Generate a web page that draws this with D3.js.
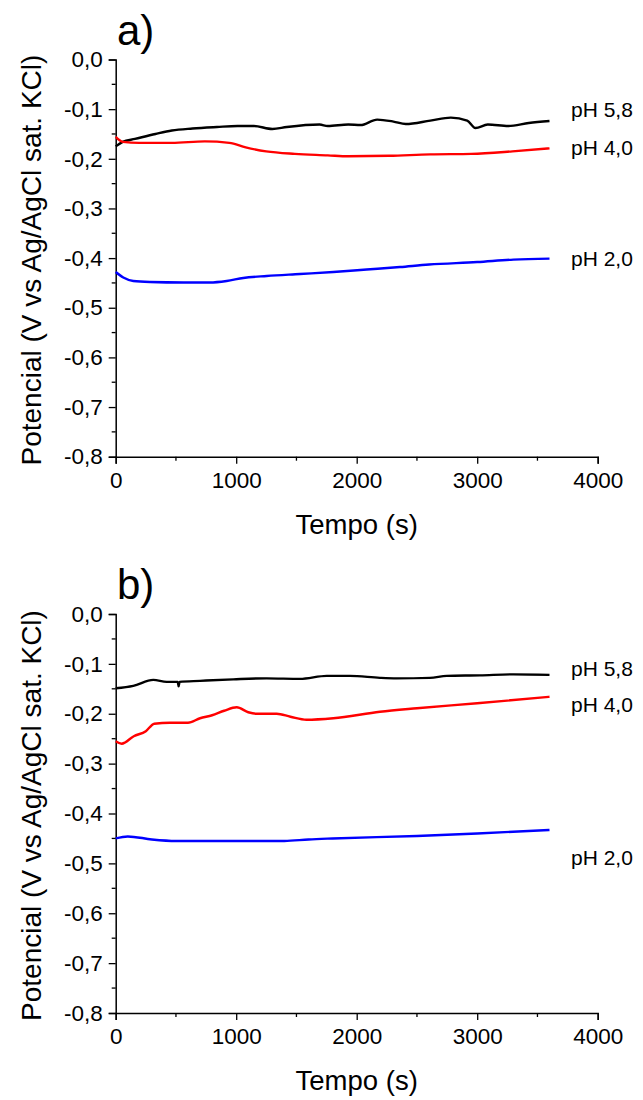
<!DOCTYPE html>
<html>
<head>
<meta charset="utf-8">
<script src="https://cdn.jsdelivr.net/npm/d3@7"></script>
<style>
  body { margin: 0; background: #fff; }
  svg { display: block; font-family: "Liberation Sans", Arial, sans-serif; }
</style>
</head>
<body>
<svg id="chart" width="643" height="1100"></svg>
<script>
// ---------- DATA ----------
const xTicks = [0, 1000, 2000, 3000, 4000];
const yTicks = [0, -0.1, -0.2, -0.3, -0.4, -0.5, -0.6, -0.7, -0.8];
const seriesNames = ["pH 5,8", "pH 4,0", "pH 2,0"];
const seriesColors = ["#000000", "#ff0000", "#0000ff"];
const panelTitles = ["a)", "b)"];
const xTitle = "Tempo (s)";
const yTitle = "Potencial (V vs Ag/AgCl sat. KCl)";

// Panel a) time (s) / potential (V)
const aPH58 = [[0,-0.175],[58,-0.166],[160,-0.160],[330,-0.150],[466,-0.143],[637,-0.139],[840,-0.136],[1011,-0.134],[1147,-0.134],[1300,-0.140],[1420,-0.136],[1692,-0.131],[1760,-0.134],[1930,-0.131],[2032,-0.132],[2170,-0.121],[2305,-0.125],[2407,-0.130],[2611,-0.123],[2781,-0.117],[2917,-0.123],[2986,-0.138],[3088,-0.131],[3258,-0.134],[3428,-0.128],[3600,-0.124]];
const aPH40 = [[0,-0.156],[58,-0.166],[194,-0.168],[466,-0.168],[739,-0.165],[943,-0.168],[1079,-0.177],[1249,-0.185],[1487,-0.190],[1760,-0.193],[1930,-0.195],[2270,-0.194],[2611,-0.191],[2951,-0.190],[3292,-0.185],[3600,-0.179]];
const aPH20 = [[0,-0.428],[63,-0.439],[146,-0.446],[285,-0.448],[561,-0.449],[782,-0.449],[921,-0.446],[1059,-0.440],[1253,-0.436],[1529,-0.432],[1806,-0.428],[2083,-0.423],[2359,-0.418],[2600,-0.413],[3000,-0.408],[3300,-0.403],[3600,-0.401]];

// Panel b)
const bPH58 = [[0,-0.149],[146,-0.144],[312,-0.132],[423,-0.136],[515,-0.136],[522,-0.145],[530,-0.136],[700,-0.134],[976,-0.131],[1253,-0.129],[1529,-0.130],[1751,-0.124],[1944,-0.124],[2193,-0.128],[2332,-0.129],[2608,-0.128],[2747,-0.124],[3023,-0.123],[3300,-0.121],[3600,-0.122]];
const bPH40 = [[0,-0.255],[50,-0.260],[150,-0.245],[250,-0.235],[320,-0.220],[450,-0.218],[600,-0.218],[700,-0.209],[800,-0.203],[900,-0.194],[1004,-0.187],[1100,-0.197],[1170,-0.200],[1336,-0.200],[1450,-0.206],[1583,-0.212],[1806,-0.209],[2193,-0.196],[2500,-0.189],[3000,-0.179],[3600,-0.166]];
const bPH20 = [[0,-0.450],[100,-0.446],[300,-0.452],[500,-0.455],[900,-0.455],[1400,-0.455],[1600,-0.452],[1800,-0.450],[2500,-0.445],[3000,-0.440],[3600,-0.433]];

// label anchor values (potential at which each pH label is centred)
const aLabelValues = [-0.100, -0.178, -0.402];
const bLabelValues = [-0.110, -0.182, -0.488];

// ---------- DRAW ----------
const svg = d3.select("#chart");
const panels = [
  { title: panelTitles[0], series: [aPH58, aPH40, aPH20], labels: aLabelValues, top: 59.5, bottom: 456.7 },
  { title: panelTitles[1], series: [bPH58, bPH40, bPH20], labels: bLabelValues, top: 614, bottom: 1013 }
];
const left = 115.7, right = 597.7;

panels.forEach(p => {
  const g = svg.append("g");
  const x = d3.scaleLinear().domain([0, 4000]).range([left, right]);
  const y = d3.scaleLinear().domain([-0.8, 0]).range([p.bottom, p.top]);

  // minor ticks
  const xMinor = d3.range(500, 4000, 1000);
  const yMinor = d3.range(-0.75, 0, 0.1);
  g.append("g").selectAll("line").data(xMinor).join("line")
    .attr("x1", d => x(d)).attr("x2", d => x(d))
    .attr("y1", p.bottom).attr("y2", p.bottom + 4)
    .attr("stroke", "#000").attr("stroke-width", 1.3);
  g.append("g").selectAll("line").data(yMinor).join("line")
    .attr("y1", d => y(d)).attr("y2", d => y(d))
    .attr("x1", left).attr("x2", left - 4)
    .attr("stroke", "#000").attr("stroke-width", 1.3);

  const fmtY = d => d3.format(".1f")(d).replace("−", "-").replace(".", ",");
  const xAxis = d3.axisBottom(x).tickValues(xTicks).tickSize(7).tickPadding(8).tickFormat(d3.format("d"));
  const yAxis = d3.axisLeft(y).tickValues(yTicks).tickSize(7).tickPadding(6)
    .tickFormat(d => (d === 0 ? "0,0" : fmtY(d)));

  const gx = g.append("g").attr("transform", `translate(0,${p.bottom})`).call(xAxis);
  const gy = g.append("g").attr("transform", `translate(${left},0)`).call(yAxis);
  [gx, gy].forEach(a => {
    a.select(".domain").attr("stroke", "#000").attr("stroke-width", 1.5);
    a.selectAll(".tick line").attr("stroke", "#000").attr("stroke-width", 1.3);
    a.selectAll("text").attr("font-size", 22.5).attr("fill", "#000")
      .attr("font-family", "'Liberation Sans', Arial, sans-serif");
  });

  // lines
  const line = d3.line().x(d => x(d[0])).y(d => y(d[1])).curve(d3.curveMonotoneX);
  p.series.forEach((s, i) => {
    g.append("path").datum(s).attr("d", line)
      .attr("fill", "none").attr("stroke", seriesColors[i]).attr("stroke-width", 2.4)
      .attr("stroke-linejoin", "round");
    g.append("text").attr("x", 571).attr("y", y(p.labels[i]))
      .attr("dy", "0.35em").attr("font-size", 21).attr("fill", "#000")
      .text(seriesNames[i]);
  });

  // titles
  g.append("text").attr("x", 117).attr("y", p.top - 15)
    .attr("font-size", 42).attr("fill", "#000").text(p.title);
  g.append("text").attr("x", (left + right) / 2).attr("y", p.bottom + 77)
    .attr("text-anchor", "middle").attr("font-size", 27.5).attr("fill", "#000").text(xTitle);
  g.append("text")
    .attr("transform", `translate(41,${(p.top + p.bottom) / 2 + 2}) rotate(-90)`)
    .attr("text-anchor", "middle").attr("font-size", 28).attr("fill", "#000").text(yTitle);
});
</script>
</body>
</html>
